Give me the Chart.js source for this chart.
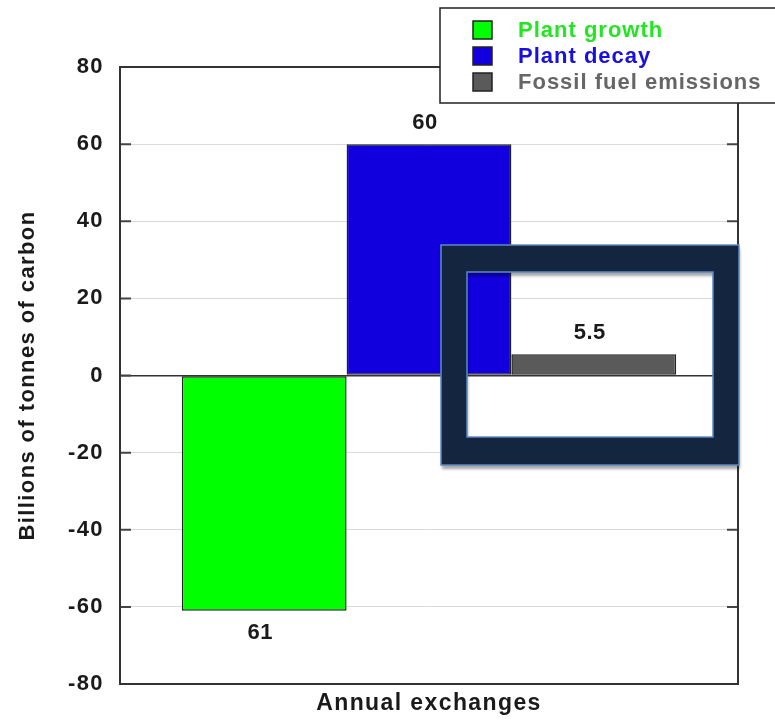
<!DOCTYPE html>
<html>
<head>
<meta charset="utf-8">
<script src="https://cdn.jsdelivr.net/npm/chart.js@4/dist/chart.umd.min.js"></script>
<style>
  html, body { margin: 0; padding: 0; background: #fff; }
  #chart { display: block; }
</style>
</head>
<body>
<canvas id="chart" width="775" height="722"></canvas>
<script>
// carbon exchange figures, billions of tonnes per year
const categories = ['Annual exchanges'];
const seriesNames = ['Plant growth', 'Plant decay', 'Fossil fuel emissions'];
const growthValues = [-61];
const decayValues = [60];
const fossilValues = [5.5];
const valueLabels = ['61', '60', '5.5'];
const yMin = -80;
const yMax = 80;
const yStep = 20;

const barColors = ['#00ff00', '#1100dd', '#5a5a5a'];
const legendTextColors = ['#22e622', '#1a10dd', '#666666'];
const FONT = 'Arial, "Liberation Sans", Helvetica, sans-serif';

// slightly spaced-out lettering for axis text
const spacing = {
  id: 'spacing',
  beforeDraw(chart) {
    chart.ctx.letterSpacing = '1.4px';
  }
};

// value text above / below each bar
const barLabels = {
  id: 'barLabels',
  afterDatasetsDraw(chart) {
    const ctx = chart.ctx;
    ctx.save();
    ctx.letterSpacing = '0.5px';
    ctx.font = 'bold 22px ' + FONT;
    ctx.fillStyle = '#1a1a1a';
    ctx.textAlign = 'center';
    ctx.textBaseline = 'middle';
    chart.data.datasets.forEach((ds, i) => {
      const bar = chart.getDatasetMeta(i).data[0];
      const v = ds.data[0];
      const y = v < 0 ? bar.y + 22 : bar.y - 21;
      ctx.fillText(valueLabels[i], bar.x - 4, y);
    });
    ctx.restore();
  }
};

// plot box, inward ticks, highlight frame and legend
const decorations = {
  id: 'decorations',
  afterDraw(chart) {
    const ctx = chart.ctx;
    const a = chart.chartArea;
    const ys = chart.scales.y;
    ctx.save();

    // inward tick marks on both sides
    ctx.strokeStyle = '#444';
    ctx.lineWidth = 2;
    ys.ticks.forEach(t => {
      const py = ys.getPixelForValue(t.value);
      ctx.beginPath();
      ctx.moveTo(a.left, py); ctx.lineTo(a.left + 11, py);
      ctx.moveTo(a.right - 11, py); ctx.lineTo(a.right, py);
      ctx.stroke();
    });

    // plot box
    ctx.strokeStyle = '#333';
    ctx.lineWidth = 2;
    ctx.strokeRect(a.left, a.top, a.right - a.left, a.bottom - a.top);

    // highlight frame around the emissions bar
    const ox = 441, oy = 245, ow = 298, oh = 220;
    const ix = 467, iy = 272, iw = 246, ih = 165;
    ctx.save();
    ctx.shadowColor = 'rgba(0,0,0,0.35)';
    ctx.shadowOffsetY = 4;
    ctx.shadowOffsetX = 1;
    ctx.shadowBlur = 3;
    ctx.beginPath();
    ctx.rect(ox, oy, ow, oh);
    ctx.rect(ix, iy, iw, ih);
    ctx.fillStyle = '#13253f';
    ctx.fill('evenodd');
    ctx.restore();
    ctx.strokeStyle = '#5d8ac2';
    ctx.lineWidth = 1.5;
    ctx.strokeRect(ox, oy, ow, oh);
    ctx.strokeRect(ix, iy, iw, ih);

    // legend box
    const lx = 440, ly = 8;
    ctx.fillStyle = '#fff';
    ctx.fillRect(lx, ly, 340, 95);
    ctx.strokeStyle = '#222';
    ctx.lineWidth = 1.5;
    ctx.strokeRect(lx, ly, 340, 95);
    ctx.font = 'bold 22px ' + FONT;
    ctx.letterSpacing = '1px';
    ctx.textAlign = 'left';
    ctx.textBaseline = 'middle';
    chart.data.datasets.forEach((ds, i) => {
      const cy = 30 + i * 26;
      ctx.fillStyle = ds.backgroundColor;
      ctx.fillRect(473, cy - 9, 19, 18);
      ctx.strokeStyle = '#222';
      ctx.lineWidth = 1.5;
      ctx.strokeRect(473, cy - 9, 19, 18);
      ctx.fillStyle = legendTextColors[i];
      ctx.fillText(ds.label, 518, cy + 1);
    });
    ctx.restore();
  }
};

new Chart(document.getElementById('chart'), {
  type: 'bar',
  data: {
    labels: categories,
    datasets: [
      { label: seriesNames[0], data: growthValues, backgroundColor: barColors[0] },
      { label: seriesNames[1], data: decayValues, backgroundColor: barColors[1] },
      { label: seriesNames[2], data: fossilValues, backgroundColor: barColors[2] }
    ]
  },
  options: {
    responsive: false,
    animation: false,
    events: [],
    layout: { padding: { top: 67, right: 37, left: 0, bottom: 0 } },
    datasets: {
      bar: {
        categoryPercentage: 0.8,
        barPercentage: 1.0,
        borderColor: '#222',
        borderWidth: 1.5,
        borderSkipped: false
      }
    },
    plugins: {
      legend: { display: false },
      tooltip: { enabled: false }
    },
    scales: {
      x: {
        grid: { display: false, drawTicks: false },
        border: { display: true, color: '#333', width: 2 },
        ticks: { display: false },
        title: {
          display: true,
          text: 'Annual exchanges',
          color: '#1a1a1a',
          font: { family: FONT, size: 23, weight: 'bold', lineHeight: 1.2 },
          padding: { top: 0, bottom: 5 }
        },
        afterFit(scale) { scale.height = 38; }
      },
      y: {
        min: yMin,
        max: yMax,
        grid: {
          drawTicks: false,
          color: ctx => ctx.tick && ctx.tick.value === 0 ? '#333' : '#dadada',
          lineWidth: ctx => ctx.tick && ctx.tick.value === 0 ? 1.5 : 1
        },
        border: { display: true, color: '#333', width: 2 },
        ticks: {
          stepSize: yStep,
          padding: 16,
          color: '#1a1a1a',
          font: { family: FONT, size: 22, weight: 'bold' }
        },
        title: {
          display: true,
          text: 'Billions of tonnes of carbon',
          color: '#1a1a1a',
          font: { family: FONT, size: 22, weight: 'bold', lineHeight: 1.2 },
          padding: { top: 15, bottom: 0 }
        },
        afterFit(scale) { scale.width = 120; }
      }
    }
  },
  plugins: [spacing, barLabels, decorations]
});
</script>
</body>
</html>
